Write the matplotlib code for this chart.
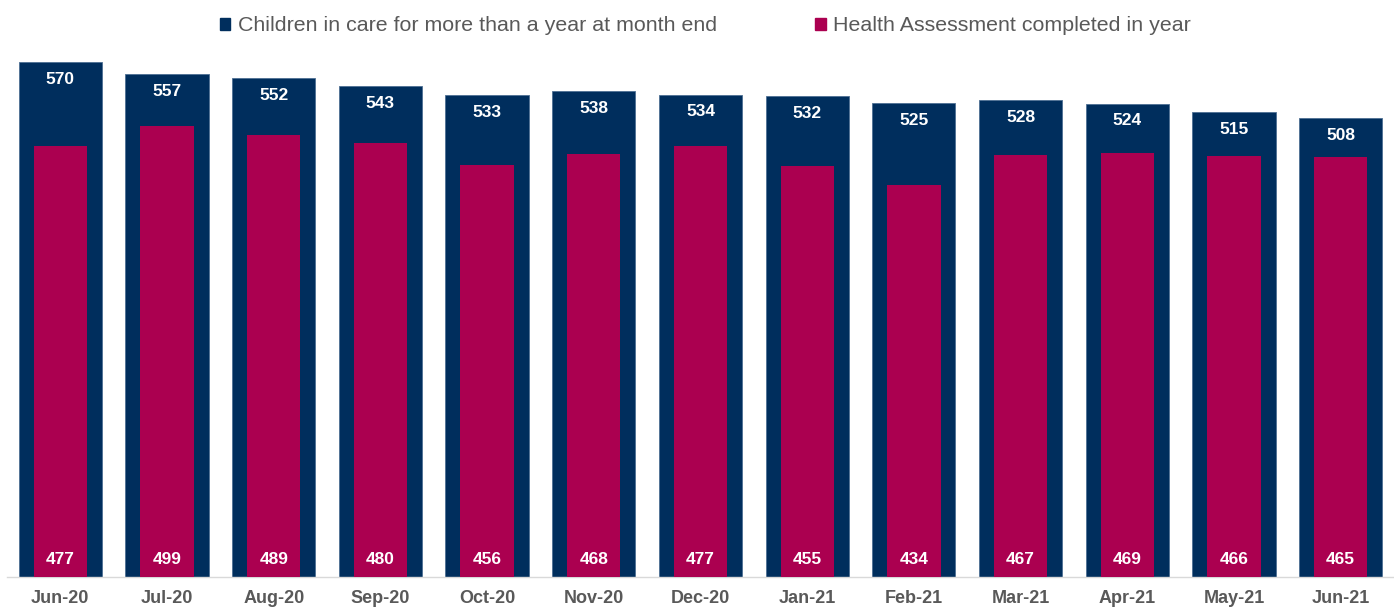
"""Children in care for over a year vs health assessments completed"""

import matplotlib.pyplot as plt
from matplotlib.patches import Patch

plt.rcParams['font.family'] = ['Liberation Sans', 'DejaVu Sans']

# Monthly figures
months = ['Jun-20', 'Jul-20', 'Aug-20', 'Sep-20', 'Oct-20', 'Nov-20', 'Dec-20',
          'Jan-21', 'Feb-21', 'Mar-21', 'Apr-21', 'May-21', 'Jun-21']
in_care = [570, 557, 552, 543, 533, 538, 534, 532, 525, 528, 524, 515, 508]
health_done = [477, 499, 489, 480, 456, 468, 477, 455, 434, 467, 469, 466, 465]

NAVY = '#002E5D'
MAGENTA = '#AB0050'
GREY = '#595959'

fig = plt.figure(figsize=(13.94, 6.10), dpi=100)
ax = fig.add_axes([0.005, 0.054, 0.995, 0.946])

x = range(len(months))
ax.bar(x, in_care, width=0.78, color=NAVY, edgecolor='#4d6f93', linewidth=0.6, zorder=2)
ax.bar(x, health_done, width=0.50, color=MAGENTA, zorder=3)

# Value labels: total near the top of the navy bar, completed near the base
for i in x:
    ax.annotate(str(in_care[i]), (i, in_care[i]), xytext=(0, -12.5), textcoords='offset points',
                ha='center', va='center', color='white', fontsize=12.5, fontweight='bold', zorder=4)
    ax.annotate(str(health_done[i]), (i, 0), xytext=(0, 12.5), textcoords='offset points',
                ha='center', va='center', color='white', fontsize=12.5, fontweight='bold', zorder=4)

ax.set_xlim(-0.5, len(months) - 0.5)
ax.set_ylim(0, 638.6)
ax.set_xticks(list(x))
ax.set_xticklabels(months, fontsize=13, fontweight='bold', color=GREY)
ax.tick_params(axis='x', length=0, pad=9)
ax.set_yticks([])
for side in ['top', 'right', 'left']:
    ax.spines[side].set_visible(False)
ax.spines['bottom'].set_color('#d9d9d9')
ax.spines['bottom'].set_linewidth(1.0)

handles = [Patch(color=NAVY, label='Children in care for more than a year at month end'),
           Patch(color=MAGENTA, label='Health Assessment completed in year')]
leg = fig.legend(handles=handles, loc='upper center', bbox_to_anchor=(0.506, 1.005), ncol=2,
                 frameon=False, fontsize=15.4, handlelength=0.5, handleheight=0.5,
                 handletextpad=0.35, columnspacing=4.6)
for t in leg.get_texts():
    t.set_color(GREY)

fig.savefig('out.png', dpi=100)
